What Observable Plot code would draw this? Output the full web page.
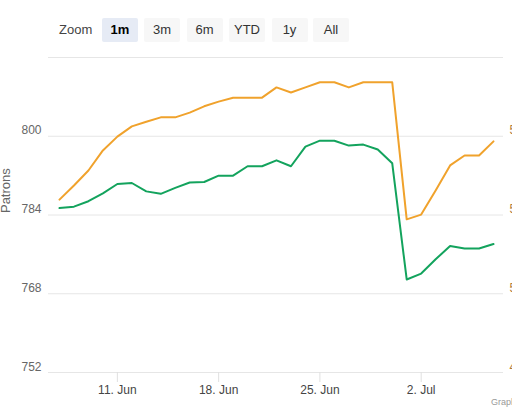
<!DOCTYPE html>
<html>
<head>
<meta charset="utf-8">
<script src="https://cdn.jsdelivr.net/npm/d3@7"></script>
<script src="https://cdn.jsdelivr.net/npm/@observablehq/plot@0.6"></script>
<style>
  html, body { margin: 0; padding: 0; background: #fff; overflow: hidden; }
  #wrap { position: relative; width: 512px; height: 411px; font-family: "Liberation Sans", Arial, sans-serif; }
  .zoomlbl { position: absolute; left: 59px; top: 20px; font-size: 13px; color: #444; line-height: 20px; }
  .btn { position: absolute; top: 18px; width: 36px; height: 24px; background: #f7f7f7; border-radius: 2px;
         font-size: 13px; color: #333; text-align: center; line-height: 24px; }
  .btn.active { background: #e6ebf5; font-weight: bold; color: #000; }
  .credit { position: absolute; left: 491px; top: 397px; font-size: 9px; color: #999; white-space: nowrap; }
  #chart { position: absolute; left: 0; top: 0; }
</style>
</head>
<body>
<div id="wrap">
  <div id="chart"></div>
  <div class="zoomlbl">Zoom</div>
  <div id="buttons"></div>
  <div class="credit">Graph</div>
</div>
<script>
const dates = [
  "2023-06-07","2023-06-08","2023-06-09","2023-06-10","2023-06-11","2023-06-12","2023-06-13",
  "2023-06-14","2023-06-15","2023-06-16","2023-06-17","2023-06-18","2023-06-19","2023-06-20",
  "2023-06-21","2023-06-22","2023-06-23","2023-06-24","2023-06-25","2023-06-26","2023-06-27",
  "2023-06-28","2023-06-29","2023-06-30","2023-07-01","2023-07-02","2023-07-03","2023-07-04",
  "2023-07-05","2023-07-06","2023-07-07"
];
// left axis series (Patrons)
const patrons = [
  785.4, 785.7, 786.8, 788.4, 790.3, 790.5, 788.8,
  788.3, 789.5, 790.6, 790.7, 792.0, 792.0, 793.9,
  793.9, 795.1, 793.9, 797.9, 799.1, 799.1, 798.1,
  798.3, 797.3, 794.5, 770.9, 772.1, 775.0, 777.7,
  777.2, 777.2, 778.1
];
// right axis series
const secondary = [
  523.9, 527.5, 531.3, 536.4, 539.9, 542.5, 543.7,
  544.8, 544.8, 546.0, 547.6, 548.8, 549.8, 549.8,
  549.8, 552.4, 551.1, 552.4, 553.7, 553.7, 552.4,
  553.7, 553.7, 553.7, 518.9, 520.1, 526.2, 532.6,
  535.1, 535.1, 538.7
];
const leftGrid = [752, 768, 784, 800, 816];
const leftLabels = [752, 768, 784, 800];
const leftDomain = [752, 816];
const rightDomain = [480, 560];
const rightLabels = [480, 500, 520, 540];
const xTicks = ["2023-06-11","2023-06-18","2023-06-25","2023-07-02"];
const months = ["Jan","Feb","Mar","Apr","May","Jun","Jul","Aug","Sep","Oct","Nov","Dec"];
const zoomButtons = ["1m","3m","6m","YTD","1y","All"];

// buttons
const btnLeft = [102, 144, 186.5, 229, 271.5, 313];
const bwrap = document.getElementById("buttons");
zoomButtons.forEach((b, i) => {
  const el = document.createElement("div");
  el.className = "btn" + (i === 0 ? " active" : "");
  el.style.left = btnLeft[i] + "px";
  el.textContent = b;
  bwrap.appendChild(el);
});

const toLeft = v => leftDomain[0] + (v - rightDomain[0]) * (leftDomain[1] - leftDomain[0]) / (rightDomain[1] - rightDomain[0]);

const data = dates.map((d, i) => ({date: new Date(d + "T00:00:00Z"), a: patrons[i], b: secondary[i]}));
const xDomain = [new Date("2023-06-06T05:46:00Z"), new Date("2023-07-07T16:35:00Z")];

const chart = Plot.plot({
  width: 512,
  height: 411,
  marginTop: 57,
  marginBottom: 39,
  marginLeft: 48,
  marginRight: 9,
  style: {fontFamily: "'Liberation Sans', Arial, sans-serif", fontSize: "12px", overflow: "visible", background: "transparent"},
  x: {type: "utc", domain: xDomain},
  y: {domain: leftDomain, axis: null},
  marks: [
    Plot.gridY(leftGrid, {stroke: "#e6e6e6", strokeOpacity: 1}),
    Plot.axisX(xTicks.map(d => new Date(d + "T00:00:00Z")), {
      tickSize: 10, tickPadding: 3, stroke: "#e0e0e0", strokeOpacity: 1, fill: "#444",
      tickFormat: d => `${d.getUTCDate()}. ${months[d.getUTCMonth()]}`, label: null, fontSize: 12
    }),
    Plot.text(leftLabels, {
      x: () => xDomain[0], y: d => d, text: d => String(d),
      textAnchor: "end", lineAnchor: "bottom", dx: -7, dy: -2, fill: "#666", fontSize: 12
    }),
    Plot.text(rightLabels, {
      x: () => xDomain[1], y: d => toLeft(d), text: d => String(d),
      textAnchor: "start", lineAnchor: "bottom", dx: 6, dy: -2, fill: "#b07d3a", fontSize: 12
    }),
    Plot.text(["Patrons"], {
      frameAnchor: "left", dx: -43, rotate: -90, fill: "#666", fontSize: 13,
      y: () => 784.4
    }),
    Plot.line(data, {x: "date", y: d => toLeft(d.b), stroke: "#f0a22c", strokeWidth: 2, strokeLinejoin: "round"}),
    Plot.line(data, {x: "date", y: "a", stroke: "#13a35d", strokeWidth: 2, strokeLinejoin: "round"})
  ]
});
document.getElementById("chart").appendChild(chart);
</script>
</body>
</html>
